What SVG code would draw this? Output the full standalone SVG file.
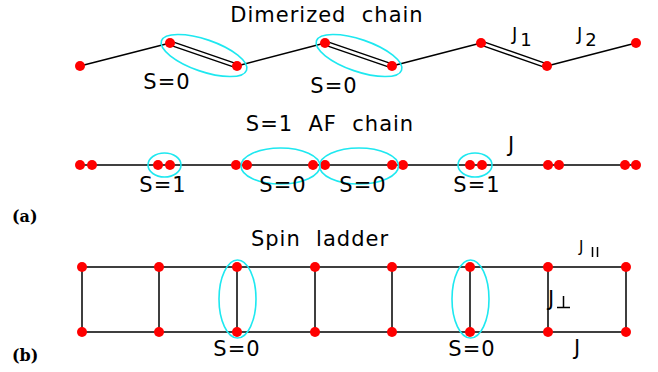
<svg xmlns="http://www.w3.org/2000/svg" width="658" height="372" viewBox="0 0 658 372">
<style>
.bond{stroke:#000;stroke-width:1.5;fill:none}
.site{fill:#f00}
.pair{fill:none;stroke:#1ee8f0;stroke-width:1.6}
.t{font-family:"DejaVu Sans","Liberation Sans",sans-serif;font-size:21px;letter-spacing:1px;fill:#000;white-space:pre}
.j{font-size:18px}
.lab{font-family:"DejaVu Serif","Liberation Serif",serif;font-weight:bold;font-size:16px;fill:#000}
</style>
<defs>
<circle id="dot" r="5" class="site"/>
</defs>

<!-- bonds -->
<g id="connectors">
  <!-- dimerized chain: single (J2) bonds -->
  <path class="bond" d="M80,66 L170,43 M237,66 L325,43 M392,66 L481,43 M547,66 L636,43"/>
  <!-- dimerized chain: double (J1) bonds -->
  <path class="bond" stroke-width="1.2" d="M170.7,41.1 L237.7,64.1 M169.3,44.9 L236.3,67.9 M325.7,41.1 L392.7,64.1 M324.3,44.9 L391.3,67.9 M481.7,41.1 L547.7,64.1 M480.3,44.9 L546.3,67.9"/>
  <!-- AF chain -->
  <path class="bond" d="M80,165 L636,165"/>
  <!-- ladder legs and rungs -->
  <path class="bond" d="M82,267 L626,267 M82,332 L626,332 M82,267 V332 M159,267 V332 M237,267 V332 M315,267 V332 M392,267 V332 M470,267 V332 M548,267 V332 M626,267 V332"/>
</g>

<!-- dimerized chain -->
<g id="dimerized-chain">
  <use href="#dot" x="80" y="66"/><use href="#dot" x="170" y="43"/>
  <use href="#dot" x="237" y="66"/><use href="#dot" x="325" y="43"/>
  <use href="#dot" x="392" y="66"/><use href="#dot" x="481" y="43"/>
  <use href="#dot" x="547" y="66"/><use href="#dot" x="636" y="43"/>
  <ellipse class="pair" cx="204" cy="55.5" rx="45" ry="16" transform="rotate(19 204 55.5)"/>
  <ellipse class="pair" cx="359" cy="55.5" rx="45" ry="16" transform="rotate(19 359 55.5)"/>
  <text class="t" x="327" y="22" text-anchor="middle">Dimerized  chain</text>
  <text class="t" x="167" y="89" text-anchor="middle">S=0</text>
  <text class="t" x="334" y="93" text-anchor="middle">S=0</text>
  <text class="t j" x="512" y="40">J<tspan dx="2" dy="6">1</tspan></text>
  <text class="t j" x="577" y="40">J<tspan dx="2" dy="6">2</tspan></text>
</g>

<!-- S=1 AF chain -->
<g id="af-chain">
  <use href="#dot" x="80" y="165"/><use href="#dot" x="92" y="165"/>
  <use href="#dot" x="158" y="165"/><use href="#dot" x="170" y="165"/>
  <use href="#dot" x="236" y="165"/><use href="#dot" x="247" y="165"/>
  <use href="#dot" x="313" y="165"/><use href="#dot" x="325" y="165"/>
  <use href="#dot" x="392" y="165"/><use href="#dot" x="403" y="165"/>
  <use href="#dot" x="470" y="165"/><use href="#dot" x="482" y="165"/>
  <use href="#dot" x="548" y="165"/><use href="#dot" x="559" y="165"/>
  <use href="#dot" x="625" y="165"/><use href="#dot" x="636" y="165"/>
  <ellipse class="pair" cx="164.5" cy="165" rx="16.5" ry="12"/>
  <ellipse class="pair" cx="280.5" cy="166" rx="39.5" ry="18"/>
  <ellipse class="pair" cx="359" cy="166" rx="39.5" ry="18"/>
  <ellipse class="pair" cx="475" cy="165" rx="17" ry="12"/>
  <text class="t" x="330" y="131" text-anchor="middle">S=1  AF  chain</text>
  <text class="t" x="163" y="192" text-anchor="middle">S=1</text>
  <text class="t" x="283" y="192" text-anchor="middle">S=0</text>
  <text class="t" x="363" y="192" text-anchor="middle">S=0</text>
  <text class="t" x="477" y="192" text-anchor="middle">S=1</text>
  <text class="t" x="508" y="152">J</text>
  <text class="lab" x="12" y="222">(a)</text>
</g>

<!-- spin ladder -->
<g id="spin-ladder">
  <use href="#dot" x="82" y="267"/><use href="#dot" x="82" y="332"/>
  <use href="#dot" x="159" y="267"/><use href="#dot" x="159" y="332"/>
  <use href="#dot" x="237" y="267"/><use href="#dot" x="237" y="332"/>
  <use href="#dot" x="315" y="267"/><use href="#dot" x="315" y="332"/>
  <use href="#dot" x="392" y="267"/><use href="#dot" x="392" y="332"/>
  <use href="#dot" x="470" y="267"/><use href="#dot" x="470" y="332"/>
  <use href="#dot" x="548" y="267"/><use href="#dot" x="548" y="332"/>
  <use href="#dot" x="626" y="267"/><use href="#dot" x="626" y="332"/>
  <ellipse class="pair" cx="237.5" cy="299" rx="18.5" ry="39"/>
  <ellipse class="pair" cx="470.5" cy="299" rx="18.5" ry="39"/>
  <text class="t" x="320" y="246" text-anchor="middle">Spin  ladder</text>
  <text class="t" x="237" y="356" text-anchor="middle">S=0</text>
  <text class="t" x="472" y="356" text-anchor="middle">S=0</text>
  <text class="t j" x="579" y="252" style="font-size:15px">J</text>
  <path class="bond" stroke-width="1.2" d="M592.5,247 V257 M597.5,247 V257"/>
  <text class="t" x="548" y="306">J</text>
  <path class="bond" stroke-width="1.6" d="M557,307.5 H570 M563.5,296 V307.5"/>
  <text class="t" x="574" y="355">J</text>
  <text class="lab" x="12" y="361">(b)</text>
</g>
</svg>
